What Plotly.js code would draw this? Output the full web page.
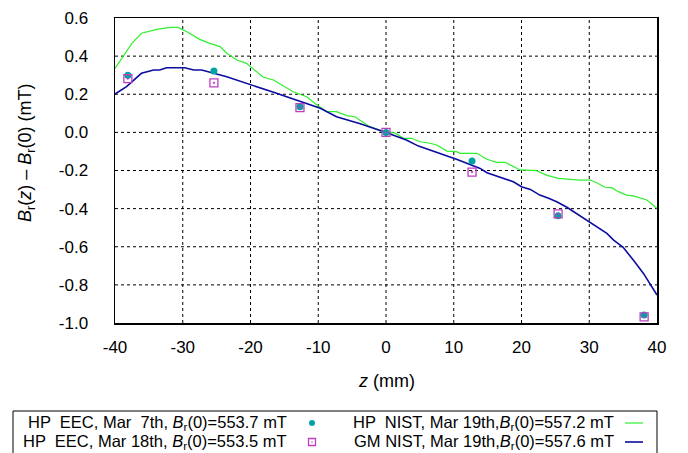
<!DOCTYPE html>
<html>
<head>
<meta charset="utf-8">
<script src="https://cdn.plot.ly/plotly-3.0.1.min.js"></script>
<style>html,body{margin:0;padding:0;background:#fff;}#chart{width:688px;height:453px;}</style>
</head>
<body>
<div id="chart"></div>
<script>
// ---- data ----
const seriesNames = [
  "HP  EEC, Mar  7th, <i>B</i><sub>r</sub>(0)=553.7 mT",
  "HP  EEC, Mar 18th, <i>B</i><sub>r</sub>(0)=553.5 mT",
  "HP  NIST, Mar 19th,<i>B</i><sub>r</sub>(0)=557.2 mT",
  "GM NIST, Mar 19th,<i>B</i><sub>r</sub>(0)=557.6 mT"
];
const pointZ = [-38.1, -25.4, -12.7, 0, 12.7, 25.4, 38.1];
const eecMar7 = [0.300, 0.322, 0.135, 0.0, -0.150, -0.437, -0.958];
const eecMar18 = [0.282, 0.260, 0.130, 0.0, -0.208, -0.428, -0.968];

const hpNistZ = [-40, -37.5, -36.1, -33.8, -31.9, -30.7, -29.4, -27.5, -26, -24.5, -23.5, -22, -20.6, -18.1, -16.6, -13.7, -11.7, -10.2, -8.75, -7.3, -5.8, -4.6, -2.4, 0, 1.3, 2.6, 3.8, 5, 6.5, 7.5, 9, 10.4, 10.9, 13.4, 14.9, 16.3, 17.6, 19.8, 22.2, 23.7, 25.4, 26.7, 28.6, 30.1, 31.1, 32.3, 33.3, 34.3, 35.5, 36.5, 38.5, 40];
const hpNistB = [0.336, 0.467, 0.520, 0.540, 0.551, 0.551, 0.528, 0.488, 0.467, 0.450, 0.415, 0.380, 0.362, 0.289, 0.275, 0.213, 0.187, 0.144, 0.109, 0.109, 0.088, 0.082, 0.030, 0.0, -0.003, -0.031, -0.031, -0.049, -0.057, -0.066, -0.098, -0.101, -0.110, -0.110, -0.141, -0.157, -0.157, -0.197, -0.201, -0.224, -0.241, -0.245, -0.250, -0.250, -0.264, -0.288, -0.290, -0.311, -0.329, -0.333, -0.355, -0.398];

const gmNistZ = [-40, -38.3, -36.1, -34.3, -33.4, -32.4, -29.7, -28.4, -27.2, -25.5, -23.5, -16.6, -9.7, -7.3, -3.8, 0, 3, 4.8, 8, 10.4, 13.9, 14.9, 18.8, 20, 21.3, 22.7, 24, 25.2, 26.7, 28.1, 30.1, 32.6, 33.6, 35, 36.5, 38, 40];
const gmNistB = [0.201, 0.240, 0.310, 0.327, 0.327, 0.339, 0.339, 0.327, 0.327, 0.310, 0.292, 0.210, 0.126, 0.082, 0.045, 0.0, -0.040, -0.072, -0.110, -0.141, -0.189, -0.212, -0.259, -0.285, -0.299, -0.329, -0.346, -0.364, -0.393, -0.425, -0.474, -0.530, -0.565, -0.603, -0.670, -0.740, -0.853];

const xTickVals = [-40, -30, -20, -10, 0, 10, 20, 30, 40];
const xTickText = ["-40", "-30", "-20", "-10", "0", "10", "20", "30", "40"];
const yTickVals = [0.6, 0.4, 0.2, 0.0, -0.2, -0.4, -0.6, -0.8, -1.0];
const yTickText = ["0.6", "0.4", "0.2", "0.0", "-0.2", "-0.4", "-0.6", "-0.8", "-1.0"];

// ---- styles ----
const colors = {cyan: "#00a3a3", magenta: "#c03cc0", green: "#2ef02e", blue: "#0c0ca0"};
const FONT = "Liberation Sans, Arial, sans-serif";
const xRange = [-40, 40], yRange = [-1.0, 0.6];

// plot area in pixels
const L = 115, R = 657, T = 18, B = 323;
const px = x => (x - L) / (R - L);
const py = y => (B - y) / (B - T);

const traces = [
  {x: hpNistZ, y: hpNistB, mode: "lines", line: {color: colors.green, width: 1.2}, name: seriesNames[2]},
  {x: gmNistZ, y: gmNistB, mode: "lines", line: {color: colors.blue, width: 1.6}, name: seriesNames[3]},
  {x: pointZ, y: eecMar7, mode: "markers", marker: {symbol: "circle", size: 7, color: colors.cyan}, name: seriesNames[0]},
  {x: pointZ, y: eecMar18, mode: "markers", marker: {symbol: "square-open-dot", size: 8, color: colors.magenta, line: {width: 1.3, color: colors.magenta}}, name: seriesNames[1]}
];

const axisCommon = {
  showline: true, mirror: true, linecolor: "#000", linewidth: 1.5,
  ticks: "outside", tickcolor: "rgba(0,0,0,0)", tickwidth: 1,
  showgrid: false, zeroline: false, tickfont: {family: FONT, size: 17, color: "#000"}
};

const rowY = [423, 442];
const legFont = {family: FONT, size: 16.5, color: "#000"};
const annotations = [
  {xref: "paper", yref: "paper", x: px(26), y: py(153), xanchor: "center", yanchor: "middle", textangle: -90, showarrow: false,
   text: "<i>B</i><sub>r</sub>(<i>z</i>) \u2013 <i>B</i><sub>r</sub>(0) (mT)", font: {family: FONT, size: 18, color: "#000"}},
  {xref: "paper", yref: "paper", x: px(386), y: py(381), xanchor: "center", yanchor: "middle", showarrow: false,
   text: "<i>z</i> (mm)", font: {family: FONT, size: 18, color: "#000"}},
  {xref: "paper", yref: "paper", x: px(289), y: py(rowY[0]), xanchor: "right", yanchor: "middle", showarrow: false, text: seriesNames[0], font: legFont},
  {xref: "paper", yref: "paper", x: px(289), y: py(rowY[1]), xanchor: "right", yanchor: "middle", showarrow: false, text: seriesNames[1], font: legFont},
  {xref: "paper", yref: "paper", x: px(616), y: py(rowY[0]), xanchor: "right", yanchor: "middle", showarrow: false, text: seriesNames[2], font: legFont},
  {xref: "paper", yref: "paper", x: px(616), y: py(rowY[1]), xanchor: "right", yanchor: "middle", showarrow: false, text: seriesNames[3], font: legFont}
];

// dotted grid drawn from the tick arrays, through the axes' own scales
const gridLine = {color: "#000", width: 1, dash: "dot"};
const gridShapes = []
  .concat(xTickVals.filter(v => v > xRange[0] && v < xRange[1]).map(v => ({type: "line", layer: "below", xref: "x", yref: "paper", x0: v, x1: v, y0: 0, y1: 1, line: gridLine})))
  .concat(yTickVals.filter(v => v > yRange[0] && v < yRange[1]).map(v => ({type: "line", layer: "below", xref: "paper", yref: "y", x0: 0, x1: 1, y0: v, y1: v, line: gridLine})));

// legend symbols in paper units
const boxAt = (cx, cy, r) => ({x0: px(cx - r), x1: px(cx + r), y0: py(cy + r), y1: py(cy - r)});
const legendShapes = [
  Object.assign({type: "rect", xref: "paper", yref: "paper", line: {color: "#000", width: 1}}, {x0: px(13), x1: px(657), y0: py(470), y1: py(411)}),
  Object.assign({type: "circle", xref: "paper", yref: "paper", fillcolor: colors.cyan, line: {width: 0}}, boxAt(312, rowY[0], 3)),
  Object.assign({type: "rect", xref: "paper", yref: "paper", line: {color: colors.magenta, width: 1.3}}, boxAt(312, rowY[1], 3.5)),
  Object.assign({type: "circle", xref: "paper", yref: "paper", fillcolor: colors.magenta, line: {width: 0}}, boxAt(312, rowY[1], 0.8)),
  {type: "line", xref: "paper", yref: "paper", x0: px(625), x1: px(643), y0: py(rowY[0]), y1: py(rowY[0]), line: {color: colors.green, width: 1.2}},
  {type: "line", xref: "paper", yref: "paper", x0: px(625), x1: px(643), y0: py(rowY[1]), y1: py(rowY[1]), line: {color: colors.blue, width: 1.6}}
];

const layout = {
  width: 688, height: 453,
  margin: {l: L, r: 688 - R, t: T, b: 453 - B, pad: 0},
  paper_bgcolor: "#fff", plot_bgcolor: "#fff",
  showlegend: false,
  font: {family: FONT, size: 17, color: "#000"},
  xaxis: Object.assign({}, axisCommon, {range: xRange, tickvals: xTickVals, ticktext: xTickText, ticklen: 8}),
  yaxis: Object.assign({}, axisCommon, {range: yRange, tickvals: yTickVals, ticktext: yTickText, ticklen: 22}),
  annotations: annotations,
  shapes: gridShapes.concat(legendShapes)
};

Plotly.newPlot("chart", traces, layout, {displayModeBar: false, staticPlot: true});
</script>
</body>
</html>
